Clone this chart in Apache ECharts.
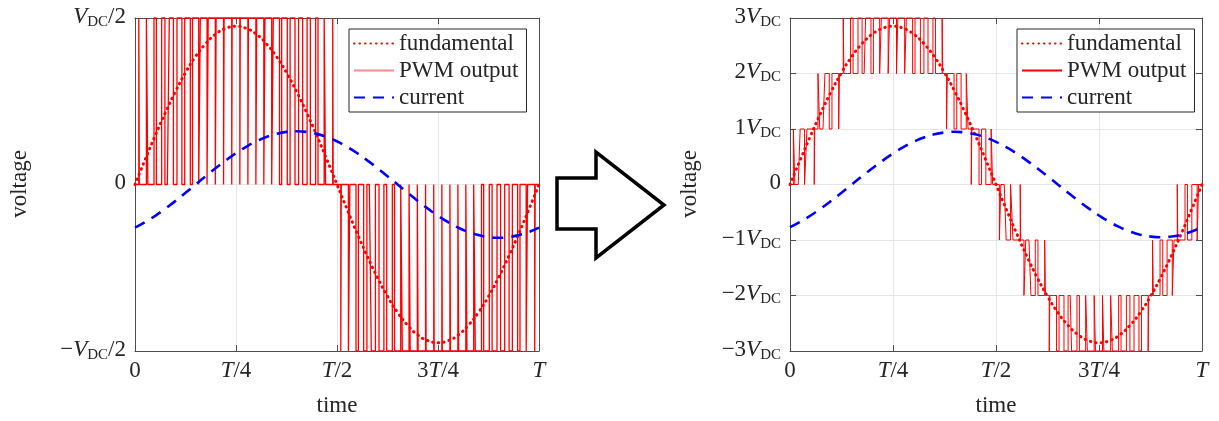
<!DOCTYPE html>
<html>
<head>
<meta charset="utf-8">
<script src="https://cdn.jsdelivr.net/npm/echarts@6/dist/echarts.min.js"></script>
<style>
  html, body { margin: 0; padding: 0; background: #fff; }
  #chart { width: 1219px; height: 421px; }
</style>
</head>
<body>
<div id="chart"></div>
<script>
// ---- data -------------------------------------------------------------
// Tick labels (V_DC -> italic V with subscript DC, T -> italic T)
const xTickLabels = ['0', 'T/4', 'T/2', '3T/4', 'T'];
const leftYTickLabels = ['−V_DC/2', '0', 'V_DC/2'];           // -1, 0, 1 (units of V_DC/2)
const rightYTickLabels = ['−3V_DC', '−2V_DC', '−1V_DC', '0', '1V_DC', '2V_DC', '3V_DC'];

const legendNames = ['fundamental', 'PWM output', 'current'];

// One period sampled at 41 evenly spaced instants (0 .. T)
const fundamentalLeft = [0, 0.149, 0.294, 0.431, 0.558, 0.672, 0.769, 0.846, 0.904, 0.938, 0.95,
  0.938, 0.904, 0.846, 0.769, 0.672, 0.558, 0.431, 0.294, 0.149, 0,
  -0.149, -0.294, -0.431, -0.558, -0.672, -0.769, -0.846, -0.904, -0.938, -0.95,
  -0.938, -0.904, -0.846, -0.769, -0.672, -0.558, -0.431, -0.294, -0.149, 0];
const currentLeft = [-0.259, -0.226, -0.188, -0.145, -0.099, -0.05, 0, 0.05, 0.099, 0.145, 0.188,
  0.226, 0.259, 0.285, 0.304, 0.316, 0.32, 0.316, 0.304, 0.285, 0.259,
  0.226, 0.188, 0.145, 0.099, 0.05, 0, -0.05, -0.099, -0.145, -0.188,
  -0.226, -0.259, -0.285, -0.304, -0.316, -0.32, -0.316, -0.304, -0.285, -0.259];
const fundamentalRight = [0, 0.446, 0.881, 1.294, 1.675, 2.015, 2.306, 2.539, 2.711, 2.815, 2.85,
  2.815, 2.711, 2.539, 2.306, 2.015, 1.675, 1.294, 0.881, 0.446, 0,
  -0.446, -0.881, -1.294, -1.675, -2.015, -2.306, -2.539, -2.711, -2.815, -2.85,
  -2.815, -2.711, -2.539, -2.306, -2.015, -1.675, -1.294, -0.881, -0.446, 0];
const currentRight = [-0.769, -0.672, -0.558, -0.431, -0.294, -0.149, 0, 0.149, 0.294, 0.431, 0.558,
  0.672, 0.769, 0.846, 0.904, 0.938, 0.95, 0.938, 0.904, 0.846, 0.769,
  0.672, 0.558, 0.431, 0.294, 0.149, 0, -0.149, -0.294, -0.431, -0.558,
  -0.672, -0.769, -0.846, -0.904, -0.938, -0.95, -0.938, -0.904, -0.846, -0.769];

// Modulating reference held in each of the 50 switching periods
const pwmRefLeft = [0.060, 0.178, 0.294, 0.405, 0.509, 0.606, 0.693, 0.769, 0.832, 0.883, 0.920, 0.943, 0.950,
  0.943, 0.920, 0.883, 0.832, 0.769, 0.693, 0.606, 0.509, 0.405, 0.294, 0.178, 0.060,
  -0.060, -0.178, -0.294, -0.405, -0.509, -0.606, -0.693, -0.769, -0.832, -0.883, -0.920, -0.943, -0.950,
  -0.943, -0.920, -0.883, -0.832, -0.769, -0.693, -0.606, -0.509, -0.405, -0.294, -0.178, -0.060];
const pwmRefRight = [0.179, 0.534, 0.881, 1.214, 1.527, 1.817, 2.078, 2.306, 2.497, 2.650, 2.761, 2.828, 2.850,
  2.828, 2.761, 2.650, 2.497, 2.306, 2.078, 1.817, 1.527, 1.214, 0.881, 0.534, 0.179,
  -0.179, -0.534, -0.881, -1.214, -1.527, -1.817, -2.078, -2.306, -2.497, -2.650, -2.761, -2.828, -2.850,
  -2.828, -2.761, -2.650, -2.497, -2.306, -2.078, -1.817, -1.527, -1.214, -0.881, -0.534, -0.179];

// ---- helpers ----------------------------------------------------------
const FONT = 'Liberation Serif';
const TEXT = '#262626';

function toRich(s) {
  return s.split(/(V_DC|T)/).filter(p => p !== '').map(p => {
    if (p === 'V_DC') return '{i|V}{s|DC}';
    if (p === 'T') return '{i|T}';
    return '{n|' + p + '}';
  }).join('');
}

const rich = {
  n: { fontFamily: FONT, fontSize: 23, color: TEXT, lineHeight: 23, padding: [0, 0, 3, 0] },
  i: { fontFamily: FONT, fontSize: 23, color: TEXT, fontStyle: 'italic', lineHeight: 23, padding: [0, 0, 3, 0] },
  s: { fontFamily: FONT, fontSize: 15, color: TEXT, lineHeight: 15, verticalAlign: 'bottom' }
};

function samplesToPoints(values) {
  const n = values.length - 1;
  return values.map((v, k) => [k / n, v]);
}

// Step waveform: each switching period holds a base level and a centred
// pulse to the next level away from zero, its width set by the reference.
function pwmPoints(refs) {
  const n = refs.length;
  const pts = [];
  refs.forEach((r, k) => {
    const t0 = k / n, t1 = (k + 1) / n, tc = (t0 + t1) / 2;
    const base = r >= 0 ? Math.floor(r) : Math.ceil(r);
    const pulse = r >= 0 ? base + 1 : base - 1;
    const half = Math.abs(r - base) / n / 2;
    pts.push([t0, base], [tc - half, base], [tc - half, pulse],
             [tc + half, pulse], [tc + half, base], [t1, base]);
  });
  return pts;
}

const axisLine = { onZero: false, lineStyle: { color: '#4d4d4d', width: 1 } };
const tick = { inside: true, length: 6, lineStyle: { color: '#4d4d4d' } };
const grid = { lineStyle: { color: '#e6e6e6', width: 1 } };

function xAxes(gridIndex) {
  return [
    { type: 'value', gridIndex, min: 0, max: 1, interval: 0.25, position: 'bottom',
      axisLine, axisTick: tick, splitLine: grid,
      axisLabel: { margin: 10, rich, formatter: v => toRich(xTickLabels[Math.round(v / 0.25)]) } },
    { type: 'value', gridIndex, min: 0, max: 1, interval: 0.25, position: 'top',
      axisLine, axisTick: tick, splitLine: { show: false }, axisLabel: { show: false } }
  ];
}
function yAxes(gridIndex, lo, labels) {
  return [
    { type: 'value', gridIndex, min: lo, max: -lo, interval: 1, position: 'left',
      axisLine, axisTick: tick, splitLine: grid,
      axisLabel: { margin: 9, rich, formatter: v => toRich(labels[Math.round(v - lo)]) } },
    { type: 'value', gridIndex, min: lo, max: -lo, interval: 1, position: 'right',
      axisLine, axisTick: tick, splitLine: { show: false }, axisLabel: { show: false } }
  ];
}

function panelSeries(xi, yi, fund, cur, pwm, pwmWidth) {
  return [
    { name: 'PWM output', type: 'line', xAxisIndex: xi, yAxisIndex: yi, data: pwmPoints(pwm),
      symbol: 'none', clip: false, itemStyle: { color: '#ff0000' },
      lineStyle: { color: '#ff0000', width: pwmWidth }, z: 2 },
    { name: 'fundamental', type: 'line', xAxisIndex: xi, yAxisIndex: yi, data: samplesToPoints(fund),
      symbol: 'none', smooth: true, itemStyle: { color: '#ff0000' },
      lineStyle: { color: '#ff0000', width: 3, type: [0.5, 5], cap: 'round' }, z: 3 },
    { name: 'current', type: 'line', xAxisIndex: xi, yAxisIndex: yi, data: samplesToPoints(cur),
      symbol: 'none', smooth: true, itemStyle: { color: '#0000ff' },
      lineStyle: { color: '#0000ff', width: 2.6, type: [11, 8] }, z: 4 }
  ];
}

function legendAt(left, pwmColor) {
  return {
    left, top: 29, orient: 'vertical', itemWidth: 40, itemHeight: 14, itemGap: 4,
    padding: [3, 8, 3, 4], borderColor: '#262626', borderWidth: 1, backgroundColor: '#fff',
    selectedMode: false,
    itemStyle: { opacity: 0 },
    textStyle: { fontFamily: FONT, fontSize: 23, color: TEXT, lineHeight: 23 },
    data: legendNames.map(n => n === 'PWM output'
      ? { name: n, itemStyle: { opacity: 0 }, lineStyle: { color: pwmColor } }
      : { name: n, itemStyle: { opacity: 0 } })
  };
}

function title(text, x, y, rotation) {
  return { type: 'text', x, y, rotation: rotation || 0,
    style: { text, fontFamily: FONT, fontSize: 23, fill: TEXT, align: 'center', verticalAlign: 'middle' } };
}

const chart = echarts.init(document.getElementById('chart'), null, { renderer: 'canvas' });
chart.setOption({
  animation: false,
  backgroundColor: '#fff',
  grid: [
    { left: 135, top: 18, width: 404, height: 333 },
    { left: 790, top: 18, width: 412, height: 333 }
  ],
  xAxis: [...xAxes(0), ...xAxes(1)],
  yAxis: [...yAxes(0, -1, leftYTickLabels), ...yAxes(1, -3, rightYTickLabels)],
  legend: [legendAt(349, '#ff8c8c'), legendAt(1017, '#ff0000')],
  series: [
    ...panelSeries(0, 0, fundamentalLeft, currentLeft, pwmRefLeft, 1.3),
    ...panelSeries(2, 2, fundamentalRight, currentRight, pwmRefRight, 1)
  ],
  graphic: [
    title('time', 337, 406), title('time', 996, 406),
    title('voltage', 20, 184, Math.PI / 2), title('voltage', 690, 184, Math.PI / 2),
    { type: 'polygon', shape: { points: [[557, 178], [596, 178], [596, 152], [664, 205], [596, 258], [596, 229], [557, 229]] },
      style: { fill: '#fff', stroke: '#000', lineWidth: 3.5, lineJoin: 'miter' } }
  ]
});
</script>
</body>
</html>
